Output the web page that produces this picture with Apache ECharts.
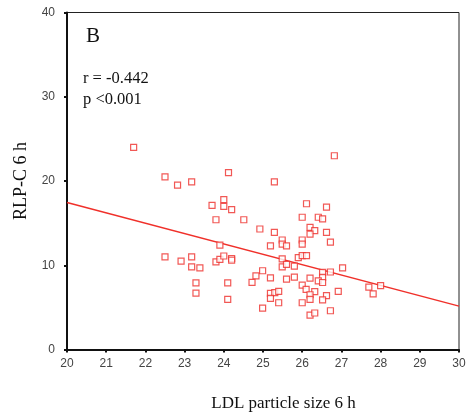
<!DOCTYPE html>
<html>
<head>
<meta charset="utf-8">
<script src="https://cdn.jsdelivr.net/npm/echarts@6/dist/echarts.min.js"></script>
<style>
  html, body { margin: 0; padding: 0; background: #fff; }
  #chart-container { width: 468px; height: 414px; }
</style>
</head>
<body>
<div id="chart-container"></div>
<script>
// LDL particle size 6 h (x) vs RLP-C 6 h (y)
var ldlSize = [
  21.70, 22.50, 22.82, 23.18, 24.12, 26.82, 25.29, 23.70, 24.00, 24.00,
  24.20, 23.80, 24.51, 23.90, 22.50, 22.91, 23.18, 23.18, 23.39, 23.80,
  23.90, 24.00, 24.20, 24.20, 23.29, 23.29, 24.10, 24.10, 26.11, 26.62,
  26.00, 26.41, 26.52, 24.92, 25.29, 26.20, 26.32, 26.20, 26.62, 25.49,
  25.49, 25.60, 26.00, 26.00, 26.72, 25.19, 25.49, 25.90, 26.00, 26.11,
  25.49, 25.60, 25.80, 24.99, 25.19, 24.82, 24.72, 25.60, 25.80, 26.20,
  26.52, 26.72, 26.52, 26.41, 26.52, 27.03, 26.00, 26.10, 26.32, 26.20,
  26.20, 26.62, 26.52, 26.00, 26.92, 25.19, 25.30, 25.40, 25.19, 25.40,
  24.99, 26.20, 26.32, 26.72, 27.70, 27.81, 28.00
];
var rlpC = [
  24.0, 20.5, 19.5, 19.9, 21.0, 23.0, 19.9, 17.1, 17.8, 17.0,
  16.6, 15.4, 15.4, 12.4, 11.0, 10.5, 11.0, 9.8, 9.7, 10.4,
  10.7, 11.1, 10.8, 10.6, 7.9, 6.7, 7.9, 5.95, 17.3, 16.9,
  15.7, 15.7, 15.5, 14.3, 13.9, 14.5, 14.1, 13.7, 13.9, 13.0,
  12.5, 12.3, 13.0, 12.5, 12.75, 12.3, 10.75, 10.9, 11.15, 11.15,
  9.8, 10.1, 9.9, 9.35, 8.5, 8.75, 7.97, 8.36, 8.6, 8.48,
  9.15, 9.2, 8.56, 8.15, 7.95, 9.7, 7.65, 7.14, 6.88, 6.5,
  5.95, 6.4, 5.9, 5.55, 6.9, 6.67, 6.74, 6.9, 6.07, 5.55,
  4.9, 4.08, 4.33, 4.6, 7.4, 6.6, 7.57
];

// regression line end points as drawn
var fitX = [20, 30];
var fitY = [17.45, 5.15];

var xTicks = [20, 30, 1];   // min, max, step
var yTicks = [0, 40, 10];

var chart = echarts.init(document.getElementById('chart-container'));

var points = ldlSize.map(function (x, i) { return [x, rlpC[i]]; });
var fitData = fitX.map(function (x, i) { return [x, fitY[i]]; });

var serif = '"Liberation Serif", "DejaVu Serif", serif';
var sans = '"Liberation Sans", Arial, sans-serif';

var options = {
  animation: false,
  backgroundColor: '#fff',
  grid: {
    left: 67, right: 9, top: 12.5, bottom: 64.5,
    outerBoundsMode: 'none',
    containLabel: false,
    show: true, borderColor: '#222', borderWidth: 1
  },
  xAxis: {
    type: 'value',
    min: xTicks[0], max: xTicks[1], interval: xTicks[2],
    name: 'LDL particle size 6 h',
    nameLocation: 'middle',
    nameGap: 46,
    nameTextStyle: { fontFamily: serif, fontSize: 17, color: '#111', padding: [0, 0, 0, 41] },
    axisLine: { lineStyle: { color: '#111', width: 2 } },
    axisTick: { inside: false, length: 3, lineStyle: { color: '#111', width: 2 } },
    axisLabel: { fontFamily: sans, fontSize: 12, color: '#444', margin: 8 },
    splitLine: { show: false }
  },
  yAxis: {
    type: 'value',
    min: yTicks[0], max: yTicks[1], interval: yTicks[2],
    name: 'RLP-C 6 h',
    nameLocation: 'middle',
    nameGap: 35,
    nameTextStyle: { fontFamily: serif, fontSize: 18, color: '#111' },
    axisLine: { lineStyle: { color: '#111', width: 2 } },
    axisTick: { inside: false, length: 3, lineStyle: { color: '#111', width: 2 } },
    axisLabel: { fontFamily: sans, fontSize: 12, color: '#444', margin: 12 },
    splitLine: { show: false }
  },
  graphic: [
    { type: 'text', left: 86, top: 26, style: { text: 'B', font: '21px ' + serif, fill: '#111' } },
    { type: 'text', left: 83, top: 70, style: { text: 'r = -0.442', font: '16.5px ' + serif, fill: '#111' } },
    { type: 'text', left: 83, top: 91, style: { text: 'p <0.001', font: '16.5px ' + serif, fill: '#111' } }
  ],
  series: [
    {
      type: 'line',
      data: fitData,
      symbol: 'none',
      lineStyle: { color: '#f0302a', width: 1.5 },
      z: 2
    },
    {
      type: 'scatter',
      data: points,
      symbol: 'rect',
      symbolSize: 6,
      itemStyle: { color: '#fff', borderColor: '#ee2e2a', borderWidth: 1.2 },
      z: 3
    }
  ]
};

chart.setOption(options);
</script>
</body>
</html>
